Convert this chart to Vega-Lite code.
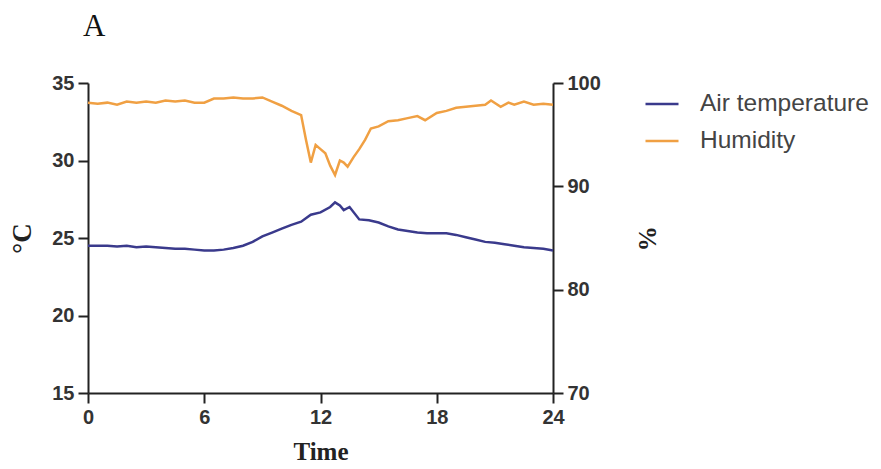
{
  "$schema": "https://vega.github.io/schema/vega-lite/v6.json",
  "width": 465,
  "height": 310,
  "autosize": {"type": "none"},
  "padding": {"left": 88, "top": 83, "right": 328, "bottom": 76},
  "background": "white",
  "title": {"text": "A", "anchor": "start", "frame": "group", "font": "Liberation Serif", "fontSize": 31, "fontWeight": "normal", "color": "#111", "offset": 30, "dx": -5},
  "config": {
    "view": {"stroke": null},
    "axis": {"grid": false, "labelFlush": false, "labelOverlap": false, "domainColor": "#222", "domainWidth": 2, "tickColor": "#222", "tickWidth": 2, "tickSize": 10, "labelFont": "Liberation Sans", "labelFontSize": 20, "labelFontWeight": "bold", "labelColor": "#333", "titleFont": "Liberation Serif", "titleFontSize": 25, "titleFontWeight": "bold", "titleColor": "#222", "labelPadding": 4}
  },
  "data": {"values": [
    {"t":0,"s":"Air temperature","v":24.5},{"t":0.5,"s":"Air temperature","v":24.5},{"t":1,"s":"Air temperature","v":24.5},{"t":1.5,"s":"Air temperature","v":24.45},{"t":2,"s":"Air temperature","v":24.5},{"t":2.5,"s":"Air temperature","v":24.4},{"t":3,"s":"Air temperature","v":24.45},{"t":3.5,"s":"Air temperature","v":24.4},{"t":4,"s":"Air temperature","v":24.35},{"t":4.5,"s":"Air temperature","v":24.3},{"t":5,"s":"Air temperature","v":24.3},{"t":5.5,"s":"Air temperature","v":24.25},{"t":6,"s":"Air temperature","v":24.2},{"t":6.5,"s":"Air temperature","v":24.2},{"t":7,"s":"Air temperature","v":24.25},{"t":7.5,"s":"Air temperature","v":24.35},{"t":8,"s":"Air temperature","v":24.5},{"t":8.5,"s":"Air temperature","v":24.75},{"t":9,"s":"Air temperature","v":25.1},{"t":9.5,"s":"Air temperature","v":25.35},{"t":10,"s":"Air temperature","v":25.6},{"t":10.5,"s":"Air temperature","v":25.85},{"t":11,"s":"Air temperature","v":26.05},{"t":11.5,"s":"Air temperature","v":26.5},{"t":12,"s":"Air temperature","v":26.65},{"t":12.5,"s":"Air temperature","v":27.0},{"t":12.75,"s":"Air temperature","v":27.3},{"t":13,"s":"Air temperature","v":27.1},{"t":13.2,"s":"Air temperature","v":26.8},{"t":13.5,"s":"Air temperature","v":27.0},{"t":14,"s":"Air temperature","v":26.2},{"t":14.5,"s":"Air temperature","v":26.15},{"t":15,"s":"Air temperature","v":26.0},{"t":15.5,"s":"Air temperature","v":25.75},{"t":16,"s":"Air temperature","v":25.55},{"t":16.5,"s":"Air temperature","v":25.45},{"t":17,"s":"Air temperature","v":25.35},{"t":17.5,"s":"Air temperature","v":25.3},{"t":18,"s":"Air temperature","v":25.3},{"t":18.5,"s":"Air temperature","v":25.3},{"t":19,"s":"Air temperature","v":25.2},{"t":19.5,"s":"Air temperature","v":25.05},{"t":20,"s":"Air temperature","v":24.9},{"t":20.5,"s":"Air temperature","v":24.75},{"t":21,"s":"Air temperature","v":24.7},{"t":21.5,"s":"Air temperature","v":24.6},{"t":22,"s":"Air temperature","v":24.5},{"t":22.5,"s":"Air temperature","v":24.4},{"t":23,"s":"Air temperature","v":24.35},{"t":23.5,"s":"Air temperature","v":24.3},{"t":24,"s":"Air temperature","v":24.2},
    {"t":0,"s":"Humidity","v":98.1},{"t":0.5,"s":"Humidity","v":98.0},{"t":1,"s":"Humidity","v":98.1},{"t":1.5,"s":"Humidity","v":97.9},{"t":2,"s":"Humidity","v":98.2},{"t":2.5,"s":"Humidity","v":98.1},{"t":3,"s":"Humidity","v":98.2},{"t":3.5,"s":"Humidity","v":98.1},{"t":4,"s":"Humidity","v":98.3},{"t":4.5,"s":"Humidity","v":98.2},{"t":5,"s":"Humidity","v":98.3},{"t":5.5,"s":"Humidity","v":98.1},{"t":6,"s":"Humidity","v":98.1},{"t":6.5,"s":"Humidity","v":98.5},{"t":7,"s":"Humidity","v":98.5},{"t":7.5,"s":"Humidity","v":98.6},{"t":8,"s":"Humidity","v":98.5},{"t":8.5,"s":"Humidity","v":98.5},{"t":9,"s":"Humidity","v":98.6},{"t":9.5,"s":"Humidity","v":98.2},{"t":10,"s":"Humidity","v":97.8},{"t":10.5,"s":"Humidity","v":97.3},{"t":11,"s":"Humidity","v":96.9},{"t":11.25,"s":"Humidity","v":94.5},{"t":11.5,"s":"Humidity","v":92.3},{"t":11.75,"s":"Humidity","v":94.0},{"t":12,"s":"Humidity","v":93.6},{"t":12.25,"s":"Humidity","v":93.2},{"t":12.5,"s":"Humidity","v":92.0},{"t":12.75,"s":"Humidity","v":91.1},{"t":13,"s":"Humidity","v":92.5},{"t":13.2,"s":"Humidity","v":92.3},{"t":13.4,"s":"Humidity","v":91.9},{"t":13.7,"s":"Humidity","v":92.8},{"t":14,"s":"Humidity","v":93.6},{"t":14.3,"s":"Humidity","v":94.5},{"t":14.6,"s":"Humidity","v":95.6},{"t":15,"s":"Humidity","v":95.8},{"t":15.5,"s":"Humidity","v":96.3},{"t":16,"s":"Humidity","v":96.4},{"t":16.5,"s":"Humidity","v":96.6},{"t":17,"s":"Humidity","v":96.8},{"t":17.4,"s":"Humidity","v":96.4},{"t":18,"s":"Humidity","v":97.1},{"t":18.5,"s":"Humidity","v":97.3},{"t":19,"s":"Humidity","v":97.6},{"t":19.5,"s":"Humidity","v":97.7},{"t":20,"s":"Humidity","v":97.8},{"t":20.5,"s":"Humidity","v":97.9},{"t":20.8,"s":"Humidity","v":98.3},{"t":21.3,"s":"Humidity","v":97.7},{"t":21.7,"s":"Humidity","v":98.1},{"t":22,"s":"Humidity","v":97.9},{"t":22.5,"s":"Humidity","v":98.2},{"t":23,"s":"Humidity","v":97.9},{"t":23.5,"s":"Humidity","v":98.0},{"t":24,"s":"Humidity","v":97.9}
  ]},
  "encoding": {
    "x": {"field": "t", "type": "quantitative", "scale": {"domain": [0, 24], "nice": false, "zero": false}, "axis": {"values": [0, 6, 12, 18, 24], "title": "Time", "titlePadding": 12}},
    "color": {"field": "s", "type": "nominal", "scale": {"domain": ["Air temperature", "Humidity"], "range": ["#3a3a8c", "#f0a043"]},
      "legend": {"title": null, "orient": "none", "legendX": 556, "legendY": 3, "symbolType": "stroke", "symbolStrokeWidth": 2.5, "symbolSize": 1089, "labelFont": "Liberation Sans", "labelFontSize": 24.5, "labelLimit": 400, "labelColor": "#444", "labelOffset": 20, "rowPadding": 7}}
  },
  "layer": [
    {
      "transform": [{"filter": "datum.s === 'Air temperature'"}],
      "mark": {"type": "line", "strokeWidth": 2.5},
      "encoding": {
        "y": {"field": "v", "type": "quantitative", "scale": {"domain": [15, 35], "nice": false, "zero": false}, "axis": {"values": [15, 20, 25, 30, 35], "title": "°C", "titlePadding": 15, "titleFontSize": 27, "orient": "left"}}
      }
    },
    {
      "transform": [{"filter": "datum.s === 'Humidity'"}],
      "mark": {"type": "line", "strokeWidth": 2.5},
      "encoding": {
        "y": {"field": "v", "type": "quantitative", "scale": {"domain": [70, 100], "nice": false, "zero": false}, "axis": {"values": [70, 80, 90, 100], "title": "%", "titlePadding": 33, "titleFontSize": 25, "orient": "right"}}
      }
    }
  ],
  "resolve": {"scale": {"y": "independent"}}
}
